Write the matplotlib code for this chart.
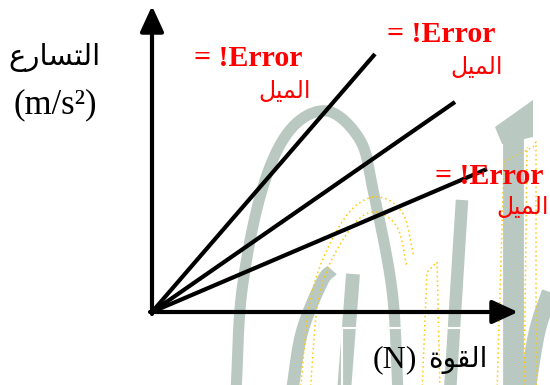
import numpy as np
import matplotlib
matplotlib.use("Agg")
import matplotlib.pyplot as plt
from matplotlib.patches import Rectangle, Polygon

# ---- data (relative force / acceleration end points of the three lines) ----
force_end = [223, 303, 335]
accel_end = [258, 210, 143]
x_axis_len = 366
y_axis_len = 306

# Arabic strings in visual (left-to-right) order using presentation forms
label_y_ar = "\uFEC9\uFEAD\uFE8E\uFEB4\uFE98\uFEDF\uFE8D"      # التسارع
label_y_unit = "(m/s\u00B2)"
label_x_unit = "(N)"
label_x_ar = "\uFE93\uFEEE\uFED8\uFEDF\uFE8D"                  # القوة
slope_ar = "\uFEDE\uFEF4\uFEE4\uFEDF\uFE8D"                     # الميل
err_text = "= !Error"

fam = ['Liberation Serif', 'DejaVu Sans']


def smooth(pts, n=20):
    """Catmull-Rom curve through points (decoration only)."""
    p = np.array(pts, float)
    p = np.vstack([2 * p[0] - p[1], p, 2 * p[-1] - p[-2]])
    out = []
    for i in range(1, len(p) - 2):
        p0, p1, p2, p3 = p[i - 1], p[i], p[i + 1], p[i + 2]
        for t in np.linspace(0, 1, n, endpoint=False):
            t2, t3 = t * t, t * t * t
            out.append(0.5 * ((2 * p1) + (-p0 + p2) * t + (2 * p0 - 5 * p1 + 4 * p2 - p3) * t2
                              + (-p0 + 3 * p1 - 3 * p2 + p3) * t3))
    out.append(p[-2])
    return np.array(out)


fig = plt.figure(figsize=(5.5, 3.85), dpi=100)
ax = fig.add_axes([0, 0, 1, 1])
ax.set_xlim(-152, 398)
ax.set_ylim(-73, 312)
ax.axis('off')

# ---- faint background watermark (decorative) ----
wm = '#b9c9c1'
arch = smooth([(84, -80), (90, 22), (110, 122), (138, 182), (175, 201),
               (208, 172), (221, 122), (240, 22), (246, -80)])
ax.plot(arch[:, 0], arch[:, 1], color=wm, lw=8, zorder=0, solid_capstyle='butt')
ax.plot([361, 361], [-80, 185], color=wm, lw=15, zorder=0, solid_capstyle='butt')
ax.add_patch(Polygon([(343, 185), (381, 212), (381, 175), (350, 168)], closed=True,
                     color=wm, lw=0, zorder=0))
ax.plot([310, 298], [112, -80], color=wm, lw=9, zorder=0, solid_capstyle='butt')
ax.plot([201, 192], [38, -80], color=wm, lw=10, zorder=0, solid_capstyle='butt')
c2 = smooth([(140, -80), (150, -20), (170, 30), (180, 42)])
ax.plot(c2[:, 0], c2[:, 1], color=wm, lw=9, zorder=0, solid_capstyle='butt')
c3 = smooth([(398, 20), (385, -20), (375, -80)])
ax.plot(c3[:, 0], c3[:, 1], color=wm, lw=12, zorder=0, solid_capstyle='butt')

# yellow dotted outlines
yl = '#ffc800'
for pts in ([(148, -80), (160, 20), (190, 90), (221, 115), (250, 100), (262, 55)],
            [(158, -80), (168, 20), (196, 80), (221, 100), (245, 85), (255, 45)]):
    c = smooth(pts)
    ax.plot(c[:, 0], c[:, 1], color=yl, lw=1.1, ls=(0, (1, 2)), zorder=1)
ax.plot([345, 352, 381, 384, 384], [-80, 150, 165, 170, -80], color=yl, lw=1.1,
        ls=(0, (1, 2)), zorder=1)
ax.plot([372, 375], [-80, 165], color=yl, lw=1.1, ls=(0, (1, 2)), zorder=1)
ax.plot([270, 275, 285, 288], [-80, 40, 50, -80], color=yl, lw=1.1, ls=(0, (1, 2)), zorder=1)

# ---- lines ----
for fx, ay in zip(force_end, accel_end):
    ax.plot([0, fx], [0, ay], color='black', lw=3.0, solid_capstyle='butt', zorder=3)

# ---- axes with arrows ----
arrow = dict(arrowstyle='-|>,head_length=1.3,head_width=0.6', lw=3.0,
             color='black', shrinkA=0, shrinkB=0, mutation_scale=12)
ax.annotate('', xy=(x_axis_len, 0), xytext=(-2, 0), arrowprops=arrow, zorder=4)
ax.annotate('', xy=(0, y_axis_len), xytext=(0, -2), arrowprops=arrow, zorder=4)

# ---- labels ----
ax.text(-98, 254, label_y_ar, family=fam, fontsize=21, ha='center', va='center')
ax.text(-97, 207, label_y_unit, family=fam, fontsize=25, ha='center', va='center')

ax.add_patch(Rectangle((190, -80), 160, 64, fill=False, edgecolor='white', lw=1.5, zorder=2))
ax.text(243, -48, label_x_unit, family=fam, fontsize=23, ha='center', va='center', zorder=5)
ax.text(306, -48, label_x_ar, family=fam, fontsize=20, ha='center', va='center', zorder=5)

red = '#ff0000'
err_pos = [(96, 253), (289, 277), (337, 135)]
ar_pos = [(133, 220), (325, 244), (371, 104)]
for (ex, ey), (sx, sy) in zip(err_pos, ar_pos):
    ax.text(ex, ey, err_text, family=fam, fontsize=21.5, fontweight='bold',
            color=red, ha='center', va='center', zorder=5)
    ax.text(sx, sy, slope_ar, family=fam, fontsize=17, color=red,
            ha='center', va='center', zorder=5)

fig.savefig('out.png', dpi=100)
